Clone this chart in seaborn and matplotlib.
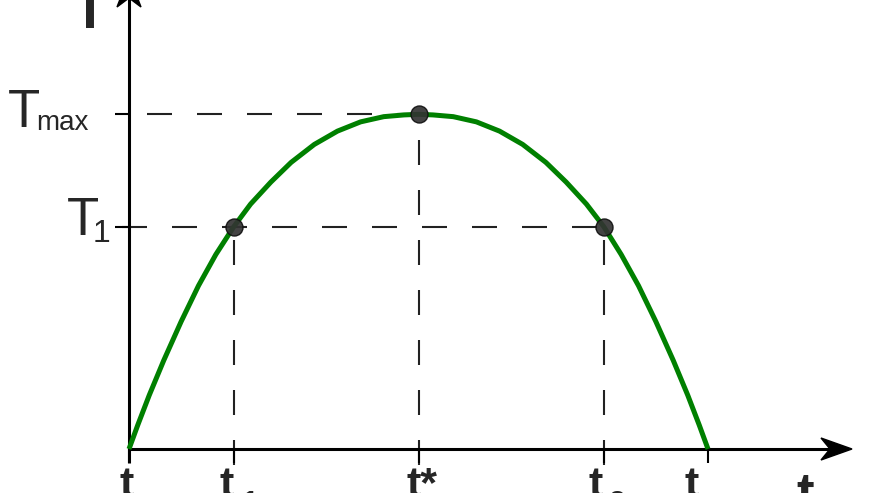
import numpy as np
import matplotlib as mpl
import matplotlib.pyplot as plt
import seaborn as sns
from matplotlib.patches import Polygon

sns.set_style("white")
mpl.rcParams['font.family'] = ['Liberation Sans', 'DejaVu Sans']
mpl.rcParams['lines.scale_dashes'] = False

# curve (t in units where the end time is 10)
curve_t = [0, 0.15, 0.35, 0.6, 0.9, 1.2, 1.5, 1.81, 2.1, 2.45, 2.8, 3.2, 3.6,
           4.0, 4.4, 4.75, 5.0, 5.25, 5.6, 6.0, 6.4, 6.8, 7.2, 7.55, 7.9,
           8.2, 8.5, 8.8, 9.1, 9.4, 9.65, 9.85, 10.0]
curve_T = [0, 0.41, 0.93, 1.53, 2.20, 2.82, 3.36, 3.84, 4.23, 4.61, 4.95, 5.26, 5.49,
           5.65, 5.74, 5.77, 5.78, 5.77, 5.74, 5.65, 5.49, 5.26, 4.95, 4.61, 4.23,
           3.84, 3.36, 2.82, 2.20, 1.53, 0.93, 0.41, 0]

# marked points: t1, t*, t2
point_t = [1.81, 5.0, 8.2]
point_T = [3.84, 5.78, 3.84]

tick_t = [0, 1.81, 5.0, 8.2, 10.0]
tick_t_names = ['t', 't', 't*', 't', 't']
tick_t_subs = ['', '1', '', '2', '']
tick_T = [5.78, 3.84]
tick_T_names = ['T', 'T']
tick_T_subs = ['max', '1']

UNIT = 57.9          # pixels per data unit
P = 1.0 / UNIT       # one pixel in data units
PT = 0.72            # one pixel in points

fig = plt.figure(figsize=(8.8, 4.93), dpi=100)
ax = fig.add_axes([0, 0, 1, 1])
ax.set_xlim(-129 * P, 751 * P)
ax.set_ylim(-44 * P, 449 * P)
ax.axis('off')

dash_col = '#222222'
# vertical guides from below the axis up to each point
for t, T in zip(point_t, point_T):
    ax.plot([t, t], [-16 * P, T], color=dash_col, lw=1.5,
            linestyle=(0, (18, 18)), zorder=1)
# horizontal guides from the y axis to the farthest point on that level
for k, T in enumerate(tick_T):
    t_far = max(t for t, tt in zip(point_t, point_T) if tt == T)
    off = 18 if k == 0 else 0
    ax.plot([-7 * P, t_far], [T, T], color=dash_col, lw=1.5,
            linestyle=(off, (18, 18)), zorder=1)

# ticks
for t in tick_t:
    ax.plot([t, t], [-14 * P, 0], color='black', lw=1.5, solid_capstyle='butt', zorder=2)
for T in tick_T:
    ax.plot([-14 * P, 0], [T, T], color='black', lw=1.5, solid_capstyle='butt', zorder=2)

# axes with arrow heads
x_tip = 723 * P
y_tip = 473 * P
ax.plot([0, 0], [-14 * P, y_tip - 20 * P], color='black', lw=2.2,
        solid_capstyle='butt', zorder=3)
ax.plot([-1 * P, x_tip - 20 * P], [0, 0], color='black', lw=2.2,
        solid_capstyle='butt', zorder=3)
ax.add_patch(Polygon([(x_tip, 0), (x_tip - 31 * P, 11 * P), (x_tip - 22 * P, 0),
                      (x_tip - 31 * P, -11 * P)], closed=True, color='black',
                     zorder=3, clip_on=False))
ax.add_patch(Polygon([(0, y_tip), (12 * P, y_tip - 31 * P), (0, y_tip - 22 * P),
                      (-12 * P, y_tip - 31 * P)], closed=True, color='black',
                     zorder=3, clip_on=False))

# the curve and the points
sns.lineplot(x=curve_t, y=curve_T, color='#008000', lw=3.6, sort=False,
             estimator=None, solid_capstyle='butt', solid_joinstyle='round',
             ax=ax, zorder=4)
sns.scatterplot(x=point_t, y=point_T, s=150, color='#333333', edgecolor='#111111',
                linewidth=1, alpha=0.92, zorder=5, ax=ax, legend=False)

# y tick labels
T_main_off = [(-121, -12.7), (-62, -8.3)]
T_sub_off = [(-93, -15.7), (-36, -15.3)]
T_sub_size = [20, 23]
for T, name, sub, mo, so, ss in zip(tick_T, tick_T_names, tick_T_subs,
                                    T_main_off, T_sub_off, T_sub_size):
    ax.annotate(name, xy=(0, T), xytext=(mo[0] * PT, mo[1] * PT),
                textcoords='offset points', ha='left', va='baseline', fontsize=38)
    ax.annotate(sub, xy=(0, T), xytext=(so[0] * PT, so[1] * PT),
                textcoords='offset points', ha='left', va='baseline', fontsize=ss)

# x tick labels
t_main_off = [-2.5, -7.5, 3.5, -8.5, -16.5]
t_sub_off = [0, 7, 0, 5, 0]
for t, name, sub, mo, so in zip(tick_t, tick_t_names, tick_t_subs, t_main_off, t_sub_off):
    ax.annotate(name, xy=(t, 0), xytext=(mo * PT, -48 * PT), textcoords='offset points',
                ha='center', va='baseline', fontsize=31, fontweight='bold')
    if sub:
        ax.annotate(sub, xy=(t, 0), xytext=(so * PT, -41 * PT), textcoords='offset points',
                    ha='left', va='top', fontsize=22, fontweight='bold')

# axis names
ax.annotate('T', xy=(0, y_tip), xytext=(-40 * PT, -52 * PT), textcoords='offset points',
            ha='center', va='baseline', fontsize=40, fontweight='bold',
            annotation_clip=False)
ax.annotate('t', xy=(x_tip, 0), xytext=(-47 * PT, -60 * PT), textcoords='offset points',
            ha='center', va='baseline', fontsize=38, fontweight='bold')

fig.savefig('out.png', dpi=100)
